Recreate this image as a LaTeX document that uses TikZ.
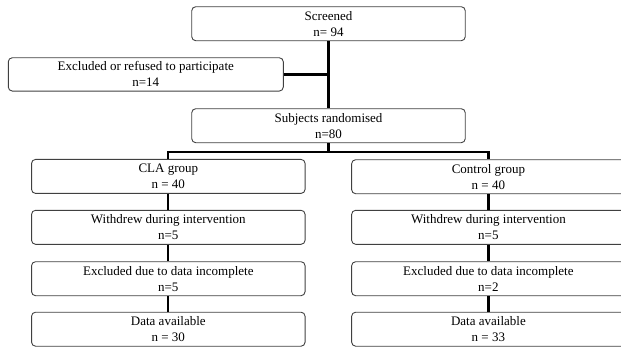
\documentclass[tikz,border=0pt]{standalone}
\usepackage{fontspec}
\setmainfont{Liberation Serif}
\begin{document}
\begin{tikzpicture}[x=1pt,y=-1pt,
  box/.style={draw=black!75,line width=0.9pt,rounded corners=4pt,minimum width=273.5pt,minimum height=34pt,inner sep=0pt,align=center,font=\fontsize{13}{16}\selectfont},
  wide/.style={box,minimum width=275pt,minimum height=33.3pt},
  conn/.style={draw=black,line width=2.2pt}]
\useasboundingbox (0,0) rectangle (621,349);
\node[box] (scr) at (328.5,23.7) {Screened\\n= 94};
\node[wide] (exc) at (145.8,74.4) {Excluded or refused to participate\\n=14};
\node[box] (sub) at (328.5,125.7) {Subjects randomised\\n=80};
\coordinate (br) at (328.5,151.7);
\node[box] (cla) at (168.3,176.4) {CLA group\\n = 40};
\node[box] (ctl) at (488.4,176.7) {Control group\\n = 40};
\node[box] (wl) at (168.3,227.3) {Withdrew during intervention\\n=5};
\node[box] (wr) at (488.4,227.3) {Withdrew during intervention\\n=5};
\node[box] (el) at (168.3,278.7) {Excluded due to data incomplete\\n=5};
\node[box] (er) at (488.4,278.7) {Excluded due to data incomplete\\n=2};
\node[box] (dl) at (168.3,329.2) {Data available\\n = 30};
\node[box] (dr) at (488.4,329.2) {Data available\\n = 33};
\draw[conn] (scr.south) -- (sub.north);
\draw[conn] (exc.east) -- (exc.east -| scr.south);
\draw[conn] (sub.south) -- (br);
\draw[conn] (cla.north) -- (cla.north |- br) -- (ctl.north |- br) -- (ctl.north);
\draw[conn] (cla.south) -- (wl.north);
\draw[conn] (wl.south) -- (el.north);
\draw[conn] (el.south) -- (dl.north);
\draw[conn] (ctl.south) -- (wr.north);
\draw[conn] (wr.south) -- (er.north);
\draw[conn] (er.south) -- (dr.north);
\end{tikzpicture}
\end{document}
